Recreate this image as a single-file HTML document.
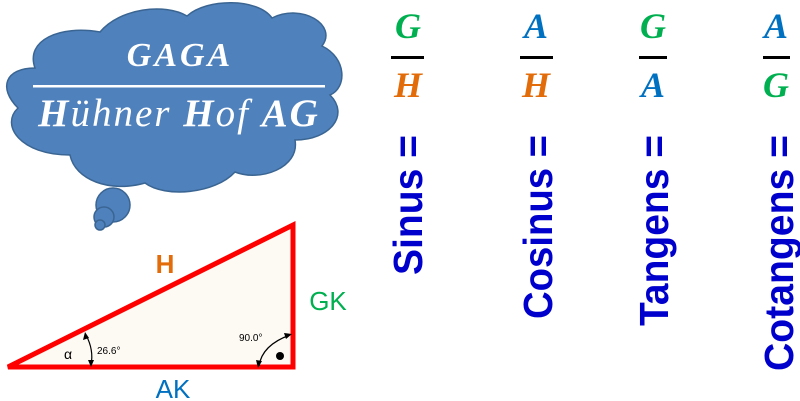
<!DOCTYPE html>
<html><head><meta charset="utf-8"><style>
html,body{margin:0;padding:0;background:#fff;}
svg{display:block}
</style></head><body>
<svg width="800" height="401" viewBox="0 0 800 401" xmlns="http://www.w3.org/2000/svg">
<g fill="#4f81bd" stroke="#3a6592" stroke-width="1.5">
<circle cx="113" cy="205" r="17"/>
<circle cx="104" cy="217" r="10"/>
<circle cx="100" cy="225" r="5"/>
<path d="M70,155 C20,155 0,125 18,108 C-2,88 5,68 35,68 C25,40 60,25 100,32 C120,8 165,3 187,16 C207,-2 258,-2 272,18 C302,3 338,25 322,46 C347,58 347,88 330,95 C350,115 330,140 295,140 C300,168 260,182 235,172 C215,194 165,198 145,183 C110,193 75,180 70,155 Z"/>
</g>
<g fill="#fff" font-family="Liberation Serif, serif" font-style="italic">
<text x="180" y="66" font-size="34" font-weight="bold" text-anchor="middle" letter-spacing="3">GAGA</text>
<rect x="33" y="85" width="292" height="2.5"/>
<text x="179" y="126" font-size="39" text-anchor="middle" letter-spacing="2"><tspan font-weight="bold">H</tspan>ühner <tspan font-weight="bold">H</tspan>of <tspan font-weight="bold">AG</tspan></text>
</g>
<polygon points="8,367 293,225 293,367" fill="#fdf9f3" stroke="#ff0000" stroke-width="5" stroke-linejoin="miter"/>
<g font-family="Liberation Sans, sans-serif">
<text x="165" y="273" font-size="26" font-weight="bold" fill="#e36c0a" text-anchor="middle">H</text>
<text x="328" y="310" font-size="26" fill="#00b050" text-anchor="middle">GK</text>
<text x="173" y="398" font-size="26" fill="#0070c0" text-anchor="middle">AK</text>
<text x="68" y="359" font-size="14" fill="#000" text-anchor="middle">α</text>
<text x="97" y="354" font-size="10" fill="#000">26.6°</text>
<text x="239" y="341" font-size="10" fill="#000">90.0°</text>
</g>
<circle cx="280" cy="356" r="4" fill="#000"/>
<g fill="none" stroke="#000" stroke-width="1.2">
<path d="M86,335 Q94,350 91,365"/>
<path d="M259,366 Q262,345 290,335"/>
</g>
<g fill="#000">
<polygon points="85,332 83,340 89,338"/>
<polygon points="91,367 88,360 94,360"/>
<polygon points="258,368 256,360 262,361"/>
<polygon points="292,334 284,333 286,339"/>
</g>
<g font-family="Liberation Serif, serif" font-style="italic" font-weight="bold" font-size="36" text-anchor="middle">
<text x="408" y="38" fill="#00b050">G</text><rect x="391" y="56" width="33" height="3" fill="#000"/><text x="408" y="97" fill="#e36c0a">H</text>
<text x="536" y="38" fill="#0070c0">A</text><rect x="520" y="56" width="33" height="3" fill="#000"/><text x="536" y="97" fill="#e36c0a">H</text>
<text x="653" y="38" fill="#00b050">G</text><rect x="639" y="56" width="28" height="3" fill="#000"/><text x="653" y="97" fill="#0070c0">A</text>
<text x="776" y="38" fill="#0070c0">A</text><rect x="763" y="56" width="27" height="3" fill="#000"/><text x="776" y="97" fill="#00b050">G</text>
</g>
<g font-family="Liberation Sans, sans-serif" font-weight="bold" font-size="41" fill="#0000cc" text-anchor="end">
<text transform="translate(422,135) rotate(-90)" textLength="140" lengthAdjust="spacingAndGlyphs">Sinus =</text>
<text transform="translate(552,135) rotate(-90)" textLength="184" lengthAdjust="spacingAndGlyphs">Cosinus =</text>
<text transform="translate(668,135) rotate(-90)" textLength="191" lengthAdjust="spacingAndGlyphs">Tangens =</text>
<text transform="translate(793,135) rotate(-90)" textLength="236" lengthAdjust="spacingAndGlyphs">Cotangens =</text>
</g>
</svg>
</body></html>
